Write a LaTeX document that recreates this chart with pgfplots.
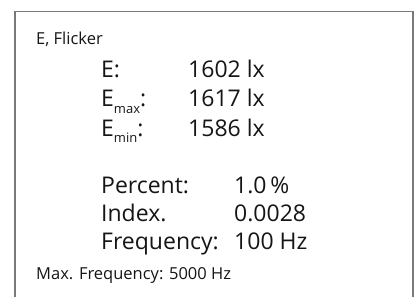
\documentclass[border=0pt]{standalone}
\usepackage{fontspec}
\setmainfont{Open Sans}
\usepackage{pgfplots}
\pgfplotsset{compat=1.18}
\definecolor{txt}{HTML}{151515}
\definecolor{framec}{HTML}{7A7A7A}
\newcommand{\fsmall}{\fontsize{16.5}{20}\selectfont}
\newcommand{\fbig}{\fontsize{23}{28}\selectfont}
\newcommand{\fsub}[1]{\raisebox{-6pt}{\fontsize{13}{16}\selectfont #1}}
\begin{document}
\begin{tikzpicture}
\begin{axis}[
  width=420pt, height=297pt, scale only axis,
  xmin=0, xmax=420, ymin=0, ymax=297,
  hide axis, clip=false,
]
\path (axis cs:0,0) rectangle (axis cs:420,297);
\draw[framec, line width=1.6pt] (axis cs:15,0) -- (axis cs:15,285.5) -- (axis cs:413,285.5) -- (axis cs:413,0);
\begin{scope}[every node/.style={anchor=base west, inner sep=0pt, text=txt}]
\node at (axis cs:36,252) {\fsmall E, Flicker};
\node at (axis cs:101,219) {\fbig E:};
\node at (axis cs:101,190) {\fbig E\fsub{max}:};
\node at (axis cs:101,161) {\fbig E\fsub{min}:};
\node at (axis cs:188,219) {\fbig 1602 lx};
\node at (axis cs:188,190) {\fbig 1617 lx};
\node at (axis cs:188,161) {\fbig 1586 lx};
\node at (axis cs:101,104) {\fbig Percent:};
\node at (axis cs:101,76) {\fbig Index.};
\node at (axis cs:101,48) {\fbig Frequency:};
\node at (axis cs:234,104) {\fbig 1.0\,\%};
\node at (axis cs:234,76) {\fbig 0.0028};
\node at (axis cs:234,48) {\fbig 100 Hz};
\node at (axis cs:36,18) {\fsmall Max. Frequency: 5000 Hz};
\end{scope}
\end{axis}
\end{tikzpicture}
\end{document}
